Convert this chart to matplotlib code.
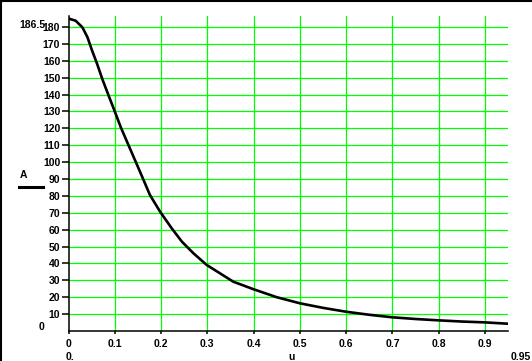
import numpy as np
import matplotlib.pyplot as plt
from matplotlib.lines import Line2D

# values
u = [0, 0.0155, 0.03, 0.041, 0.051, 0.062, 0.073, 0.084, 0.098, 0.113,
     0.127, 0.1545, 0.176, 0.198, 0.223, 0.245, 0.27, 0.2986, 0.327, 0.356,
     0.399, 0.45, 0.5, 0.55, 0.6, 0.65, 0.7, 0.75, 0.8, 0.85, 0.9, 0.95]
A = [185.0, 183.7, 179.8, 173.9, 166, 158, 149.2, 141.3, 131.4, 120.6,
     111.7, 94.3, 80.5, 70.6, 60.8, 52.9, 46, 39.1, 34.2, 29.2,
     24.8, 20, 16.4, 13.7, 11.4, 9.6, 8.1, 7.1, 6.3, 5.6, 5.1, 4.3]

x_ticks = [0, 0.1, 0.2, 0.3, 0.4, 0.5, 0.6, 0.7, 0.8, 0.9]
x_labels = ["0", "0.1", "0.2", "0.3", "0.4", "0.5", "0.6", "0.7", "0.8", "0.9"]
y_ticks = list(range(10, 190, 10))
x_min, x_max = 0, 0.95
y_min, y_max = 0, 186.5

plt.rcParams['font.family'] = ['Liberation Sans', 'DejaVu Sans']

fig = plt.figure(figsize=(5.32, 3.61), dpi=100)
ax = fig.add_axes([68.5 / 532, 30 / 361, 439.7 / 532, 315 / 361])

ax.set_xlim(x_min, x_max)
ax.set_ylim(y_min, y_max)

# green grid
for xv in x_ticks[1:]:
    ax.axvline(xv, color="#00ff00", lw=0.9, zorder=1)
for yv in y_ticks:
    ax.axhline(yv, color="#00ff00", lw=0.9, zorder=1)

ax.plot(u, A, color="black", lw=1.9, zorder=3)

for s in ["top", "right"]:
    ax.spines[s].set_visible(False)
for s in ["left", "bottom"]:
    ax.spines[s].set_linewidth(1.1)
    ax.spines[s].set_zorder(4)

ax.set_xticks(x_ticks)
ax.set_xticklabels(x_labels)
ax.set_yticks(y_ticks)
ax.tick_params(axis="y", direction="out", length=5, width=1.1, pad=1,
               labelsize=7.5)
ax.tick_params(axis="x", direction="out", length=2.5, width=1.1, pad=3,
               labelsize=7.5)
for lab in ax.get_xticklabels() + ax.get_yticklabels():
    lab.set_fontweight("bold")

# limit labels and axis names, placed like the reference
tk = dict(fontsize=7.5, fontweight="bold", transform=fig.transFigure)
fig.text(45 / 532, 1 - 25 / 361, "186.5", va="center", ha="right", **tk)
fig.text(41.5 / 532, 1 - 327.5 / 361, "0", va="center", ha="center", **tk)
fig.text(66 / 532, 1 - 356.5 / 361, "0.", va="center", ha="left", **tk)
fig.text(531 / 532, 1 - 356.5 / 361, "0.95", va="center", ha="right", **tk)
fig.text(292 / 532, 1 - 357 / 361, "u", va="center", ha="center", **tk)
fig.text(23.5 / 532, 1 - 175 / 361, "A", va="center", ha="center", **tk)
fig.add_artist(Line2D([19 / 532, 43 / 532], [1 - 187 / 361, 1 - 187 / 361],
                      color="black", lw=2.2, transform=fig.transFigure))

# border on top and left of the image
fig.add_artist(Line2D([0.5 / 532, 0.5 / 532], [0, 1], color="black", lw=1.5,
                      transform=fig.transFigure))
fig.add_artist(Line2D([0, 1], [1 - 0.5 / 361, 1 - 0.5 / 361], color="black",
                      lw=1.5, transform=fig.transFigure))

fig.savefig("out.png", dpi=100)
